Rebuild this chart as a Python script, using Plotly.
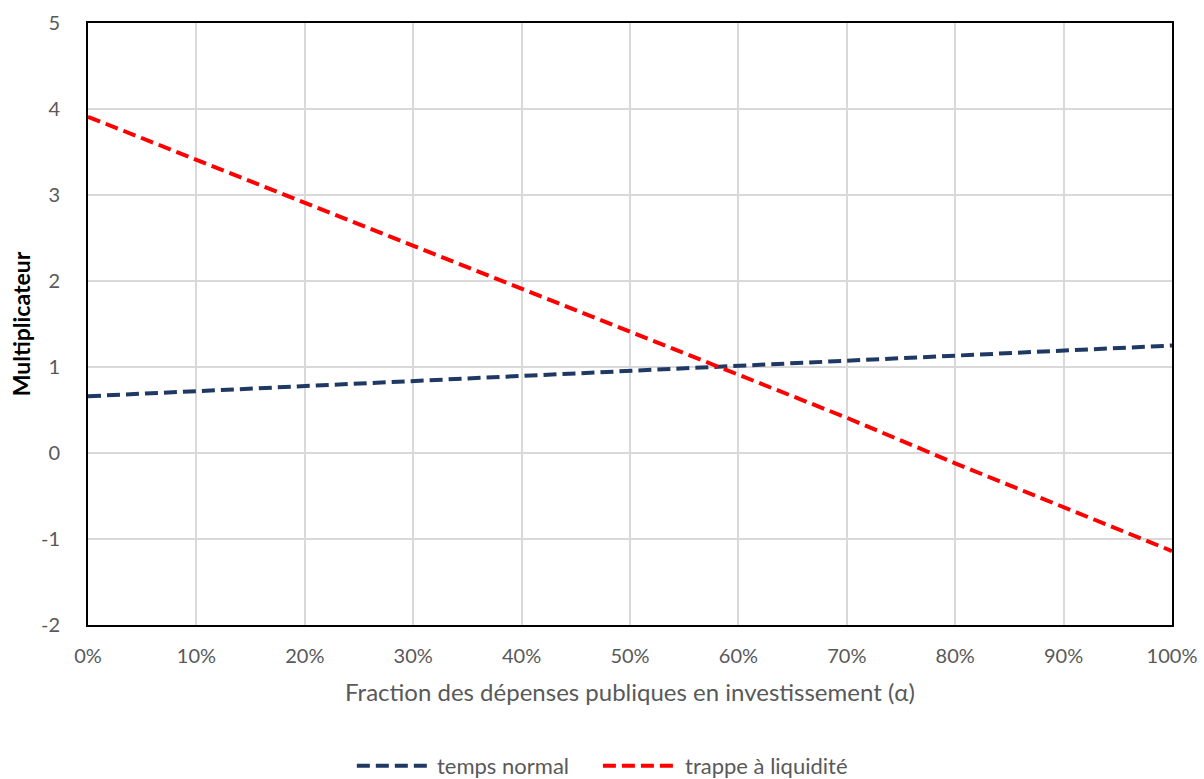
import plotly.graph_objects as go

# Fraction of public spending devoted to investment
alpha = [0.0, 0.1, 0.2, 0.3, 0.4, 0.5, 0.6, 0.7, 0.8, 0.9, 1.0]

# Multipliers in normal times and in a liquidity trap
temps_normal = [0.66, 0.72, 0.78, 0.84, 0.90, 0.96, 1.01, 1.07, 1.13, 1.19, 1.25]
trappe_liquidite = [3.91, 3.41, 2.91, 2.42, 1.91, 1.41, 0.91, 0.41, -0.12, -0.63, -1.14]

series_names = ["temps normal", "trappe à liquidité"]
series_colors = ["#203864", "#ff0000"]

x_ticks = [0.0, 0.1, 0.2, 0.3, 0.4, 0.5, 0.6, 0.7, 0.8, 0.9, 1.0]
x_tick_labels = ["0%", "10%", "20%", "30%", "40%", "50%", "60%", "70%", "80%", "90%", "100%"]
y_ticks = [-2, -1, 0, 1, 2, 3, 4, 5]
y_tick_labels = ["-2", "-1", "0", "1", "2", "3", "4", "5"]

FONT = "Lato, 'Open Sans', sans-serif"
TEXT = "#595959"
DASH = "13px,6px"

fig = go.Figure()
for name, values, color in zip(series_names, [temps_normal, trappe_liquidite], series_colors):
    fig.add_trace(go.Scatter(
        x=alpha, y=values, mode="lines", name=name, showlegend=False,
        line=dict(color=color, width=4, dash=DASH),
    ))

# Custom legend below the axis title: long dashed swatch + label
legend_y = -0.234
swatch_spans = [(0.248, 0.316), (0.475, 0.545)]
for name, color, (x0, x1) in zip(series_names, series_colors, swatch_spans):
    fig.add_shape(type="line", xref="paper", yref="paper",
                  x0=x0, x1=x1, y0=legend_y, y1=legend_y,
                  line=dict(color=color, width=4, dash=DASH))
    fig.add_annotation(xref="paper", yref="paper", x=x1 + 0.004, y=legend_y,
                       text=name, showarrow=False, xanchor="left", yanchor="middle",
                       font=dict(size=22, color=TEXT, family=FONT))

fig.update_layout(
    width=1204, height=779,
    margin=dict(l=88, r=32, t=23, b=154, autoexpand=False),
    paper_bgcolor="white", plot_bgcolor="white",
    font=dict(family=FONT, size=20, color=TEXT),
    showlegend=False,
)
fig.update_xaxes(
    range=[0, 1], tickvals=x_ticks, ticktext=x_tick_labels,
    showgrid=True, gridcolor="#d9d9d9", gridwidth=2,
    showline=True, linecolor="black", linewidth=2, mirror=True,
    ticks="", ticklabelstandoff=12, zeroline=False,
    title=dict(text="Fraction des dépenses publiques en investissement (α)",
               font=dict(size=24, color=TEXT), standoff=18),
)
fig.update_yaxes(
    range=[-2, 5], tickvals=y_ticks, ticktext=y_tick_labels,
    showgrid=True, gridcolor="#d9d9d9", gridwidth=2,
    showline=True, linecolor="black", linewidth=2, mirror=True,
    ticks="", ticklabelstandoff=22, zeroline=False,
    title=dict(text="<b>Multiplicateur</b>", font=dict(size=23, color="black"), standoff=4),
)

fig.write_html("out.html")
